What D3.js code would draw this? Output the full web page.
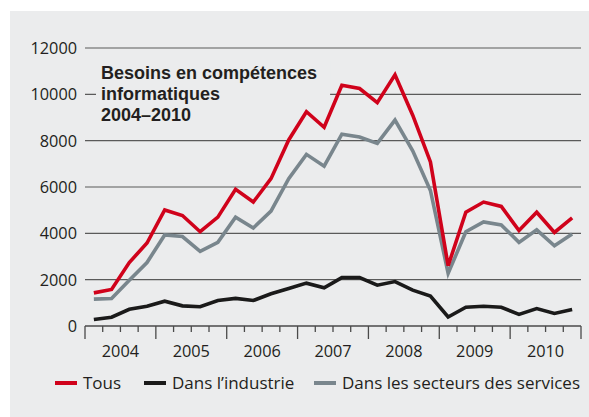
<!DOCTYPE html>
<html>
<head>
<meta charset="utf-8">
<script src="https://cdn.jsdelivr.net/npm/d3@7"></script>
<style>
    body { margin: 0; background: #fff; }
    text { font-family: "Open Sans", sans-serif; fill: #231f20; }
</style>
</head>
<body>
<div id="chart"></div>
<script>
// quarterly values 2004 Q1 - 2010 Q4
const years = ["2004", "2005", "2006", "2007", "2008", "2009", "2010"]
const yTicks = [0, 2000, 4000, 6000, 8000, 10000, 12000]

const tous = [1430, 1580, 2740, 3580, 5010, 4770, 4070, 4700, 5900, 5350, 6360, 8030, 9250, 8580,
    10390, 10250, 9640, 10840, 9100, 7080, 2600, 4910, 5350, 5160, 4120, 4910, 4040, 4670]
const industrie = [280, 380, 720, 850, 1070, 870, 830, 1100, 1190, 1100, 1390, 1620, 1850, 1650,
    2090, 2090, 1760, 1920, 1550, 1290, 390, 810, 850, 810, 500, 750, 540, 710]
const services = [1160, 1190, 1970, 2740, 3930, 3860, 3220, 3610, 4700, 4230, 4960, 6360, 7410, 6900,
    8280, 8160, 7880, 8890, 7560, 5850, 2270, 4070, 4490, 4360, 3610, 4150, 3460, 3970]

const series = [
    { name: "Tous", values: tous, color: "#d0021b" },
    { name: "Dans l\u2019industrie", values: industrie, color: "#1a1a1a" },
    { name: "Dans les secteurs des services", values: services, color: "#79868d" }
]

const width = 589, height = 417
const bg = "#ebeced"

var svg = d3.select("#chart")
    .append("svg")
        .attr("width", width)
        .attr("height", height)

svg.append("rect")
    .attr("x", 10).attr("y", 11)
    .attr("width", 579).attr("height", 406)
    .attr("fill", bg)

const x = d3.scaleLinear().domain([0, years.length * 4]).range([85, 581])
const y = d3.scaleLinear().domain([0, 12000]).range([326, 48])

// gridlines + y labels
var grid = svg.append("g")
grid.selectAll("line")
    .data(yTicks.filter(d => d > 0))
    .enter().append("line")
    .attr("x1", 85).attr("x2", 581)
    .attr("y1", d => y(d)).attr("y2", d => y(d))
    .attr("stroke", "#5a5a5a")
    .attr("stroke-width", 1.2)

svg.append("g")
    .selectAll("text")
    .data(yTicks)
    .enter().append("text")
    .attr("x", 77)
    .attr("y", d => y(d))
    .attr("dy", "0.36em")
    .attr("text-anchor", "end")
    .attr("font-size", 16.3)
    .text(d => d)

// title with a background box that hides the gridline behind it
var title = svg.append("g")
var titleText = title.append("text")
    .attr("x", 101)
    .attr("y", 79)
    .attr("font-size", 18)
    .attr("font-weight", "bold")
    .style("font-family", "'Liberation Sans', sans-serif")
titleText.selectAll("tspan")
    .data(["Besoins en compétences", "informatiques", "2004\u20132010"])
    .enter().append("tspan")
    .attr("x", 101)
    .attr("dy", (d, i) => i == 0 ? 0 : 20.9)
    .text(d => d)
const bb = titleText.node().getBBox()
title.insert("rect", "text")
    .attr("x", bb.x - 5).attr("y", bb.y - 2)
    .attr("width", bb.width + 18).attr("height", bb.height + 4)
    .attr("fill", bg)

// x axis
var xaxis = svg.append("g")
xaxis.append("line")
    .attr("x1", 85).attr("x2", 581)
    .attr("y1", y(0)).attr("y2", y(0))
    .attr("stroke", "#4a4a4a").attr("stroke-width", 1.3)
xaxis.selectAll(".tick")
    .data(d3.range(0, years.length * 4 + 1))
    .enter().append("line")
    .attr("x1", d => x(d)).attr("x2", d => x(d))
    .attr("y1", y(0)).attr("y2", d => d % 4 == 0 ? y(0) + 13 : y(0) + 6)
    .attr("stroke", "#4a4a4a").attr("stroke-width", 1.3)
xaxis.selectAll("text")
    .data(years)
    .enter().append("text")
    .attr("x", (d, i) => x(i * 4 + 2))
    .attr("y", 357)
    .attr("text-anchor", "middle")
    .attr("font-size", 16.3)
    .text(d => d)

// lines (draw services, industrie, then tous on top)
const line = d3.line().x((d, i) => x(i + 0.5)).y(d => y(d))
const drawOrder = [series[2], series[1], series[0]]
svg.append("g")
    .selectAll("path")
    .data(drawOrder)
    .enter().append("path")
    .attr("fill", "none")
    .attr("stroke", d => d.color)
    .attr("stroke-width", 3.6)
    .attr("stroke-linejoin", "miter")
    .attr("d", d => line(d.values))

// legend
const legendX = [55, 144, 314]
var legend = svg.append("g")
    .selectAll("g")
    .data(series)
    .enter().append("g")
    .attr("transform", (d, i) => `translate(${legendX[i]}, 383)`)
legend.append("line")
    .attr("x1", 0).attr("x2", 22)
    .attr("stroke", d => d.color)
    .attr("stroke-width", 4)
legend.append("text")
    .attr("x", 28)
    .attr("dy", "0.36em")
    .attr("font-size", 17)
    .text(d => d.name)
</script>
</body>
</html>
